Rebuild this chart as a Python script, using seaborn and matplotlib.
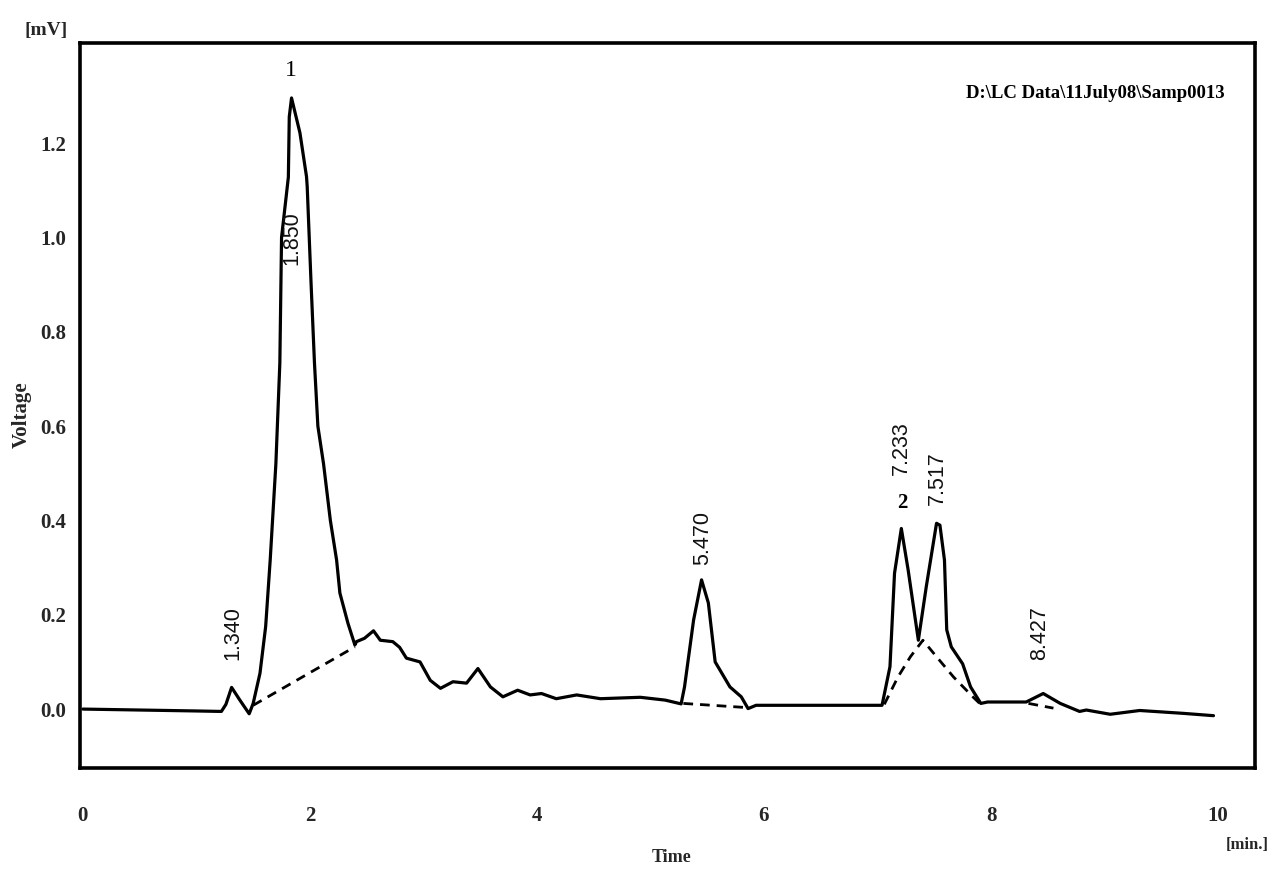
import matplotlib
matplotlib.use("Agg")
import matplotlib.pyplot as plt
import seaborn as sns
import pandas as pd

# ---- data ----
time_min = [0.00, 0.50, 1.00, 1.22, 1.26, 1.31, 1.38, 1.465, 1.50, 1.56, 1.61, 1.65, 1.70, 1.735,
            1.75, 1.81, 1.818, 1.838, 1.912, 1.97, 1.976, 2.01, 2.04, 2.07, 2.12, 2.18, 2.235, 2.264,
            2.335, 2.396, 2.41, 2.48, 2.56, 2.62, 2.73, 2.79, 2.85, 2.97, 3.06, 3.15, 3.26, 3.38, 3.48,
            3.59, 3.70, 3.83, 3.94, 4.04, 4.17, 4.35, 4.56, 4.91, 5.13, 5.27, 5.30, 5.38, 5.45, 5.51,
            5.57, 5.70, 5.80, 5.86, 5.93, 6.50, 7.04, 7.11, 7.15, 7.21, 7.27, 7.36, 7.43, 7.52, 7.55,
            7.59, 7.61, 7.65, 7.75, 7.82, 7.91, 7.97, 8.31, 8.46, 8.61, 8.78, 8.84, 9.05, 9.31, 9.69, 9.96]
voltage_mv = [0.000, -0.002, -0.004, -0.005, 0.010, 0.046, 0.020, -0.010, 0.012, 0.076, 0.175, 0.316,
              0.52, 0.734, 1.00, 1.128, 1.256, 1.296, 1.222, 1.129, 1.108, 0.903, 0.734, 0.60, 0.52,
              0.40, 0.316, 0.246, 0.182, 0.136, 0.143, 0.150, 0.166, 0.146, 0.143, 0.131, 0.108, 0.100,
              0.061, 0.044, 0.058, 0.055, 0.086, 0.047, 0.026, 0.040, 0.030, 0.033, 0.022, 0.030, 0.022,
              0.025, 0.019, 0.011, 0.047, 0.189, 0.274, 0.225, 0.100, 0.047, 0.026, 0.001, 0.008, 0.008,
              0.008, 0.090, 0.288, 0.383, 0.295, 0.146, 0.260, 0.394, 0.390, 0.316, 0.168, 0.132, 0.096,
              0.047, 0.012, 0.015, 0.015, 0.033, 0.012, -0.005, -0.002, -0.011, -0.003, -0.009, -0.014]

# integration baselines (dashed)
base1_t = [1.50, 2.396]
base1_v = [0.008, 0.132]
base2_t = [5.29, 5.86]
base2_v = [0.012, 0.003]
base3_t = [7.06, 7.18, 7.29, 7.40, 7.52, 7.67, 7.84, 7.90]
base3_v = [0.010, 0.068, 0.111, 0.146, 0.111, 0.068, 0.026, 0.012]
base4_t = [8.33, 8.55]
base4_v = [0.012, 0.002]

# retention time labels
rt_labels = ["1.340", "1.850", "5.470", "7.233", "7.517", "8.427"]
rt_x = [1.32, 1.84, 5.46, 7.21, 7.53, 8.43]
rt_y = [0.104, 0.942, 0.305, 0.496, 0.433, 0.104]

# peak numbers
peak_ids = ["1", "2"]
peak_x = [1.83, 7.22]
peak_y = [1.355, 0.437]

x_ticks = [0, 2, 4, 6, 8, 10]
y_ticks = [0.0, 0.2, 0.4, 0.6, 0.8, 1.0, 1.2]
file_path = r"D:\LC Data\11July08\Samp0013"

# ---- plotting ----
sns.set_style("white")
plt.rcParams['font.family'] = ['Liberation Serif', 'DejaVu Serif']

fig = plt.figure(figsize=(12.69, 8.69), dpi=100)
ax = fig.add_axes([0.063, 0.1162, 0.926, 0.8343])

df = pd.DataFrame({"t": time_min, "v": voltage_mv})
sns.lineplot(data=df, x="t", y="v", ax=ax, color="black", lw=2.3, estimator=None, sort=False)

for bt, bv in [(base1_t, base1_v), (base2_t, base2_v), (base3_t, base3_v), (base4_t, base4_v)]:
    sns.lineplot(x=bt, y=bv, ax=ax, color="black", lw=2.0, estimator=None, sort=False,
                 linestyle=(0, (3.5, 2.5)))

for lab, x, y in zip(rt_labels, rt_x, rt_y):
    ax.text(x, y, lab, rotation=90, ha="center", va="bottom", fontsize=15.5,
            family=["Liberation Sans", "DejaVu Sans"], color="#111111")

for lab, x, y, fw, fs in zip(peak_ids, peak_x, peak_y, ["normal", "bold"], [17, 15]):
    ax.text(x, y, lab, ha="center", va="center", fontsize=fs, fontweight=fw, color="black")

ax.text(0.9745, 0.931, file_path, transform=ax.transAxes, ha="right", va="center",
        fontsize=13.5, fontweight="bold", color="black")

ax.set_xlim(-0.026, 10.326)
ax.set_ylim(-0.125, 1.4125)
ax.set_xticks(x_ticks)
ax.set_xticklabels([str(v) for v in x_ticks])
ax.set_yticks(y_ticks)
ax.set_yticklabels([f"{v:.1f}" for v in y_ticks])
ax.tick_params(axis="x", length=0, pad=27, labelsize=15)
ax.tick_params(axis="y", length=0, pad=10, labelsize=15)
for lbl in ax.get_xticklabels() + ax.get_yticklabels():
    lbl.set_fontweight("bold")
ax.set_xlabel("")
ax.set_ylabel("")
for s in ax.spines.values():
    s.set_visible(True)
    s.set_color("black")
    s.set_linewidth(2.6)
ax.grid(False)

fig.text(0.036, 0.965, "[mV]", ha="center", va="center", fontsize=14, fontweight="bold")
fig.text(0.0173, 0.5224, "Voltage", ha="center", va="center", rotation=90, fontsize=15,
         fontweight="bold")
fig.text(0.5296, 0.0138, "Time", ha="center", va="center", fontsize=13, fontweight="bold")
fig.text(0.9827, 0.0276, "[min.]", ha="center", va="center", fontsize=12, fontweight="bold")

fig.savefig("out.png", dpi=100)
